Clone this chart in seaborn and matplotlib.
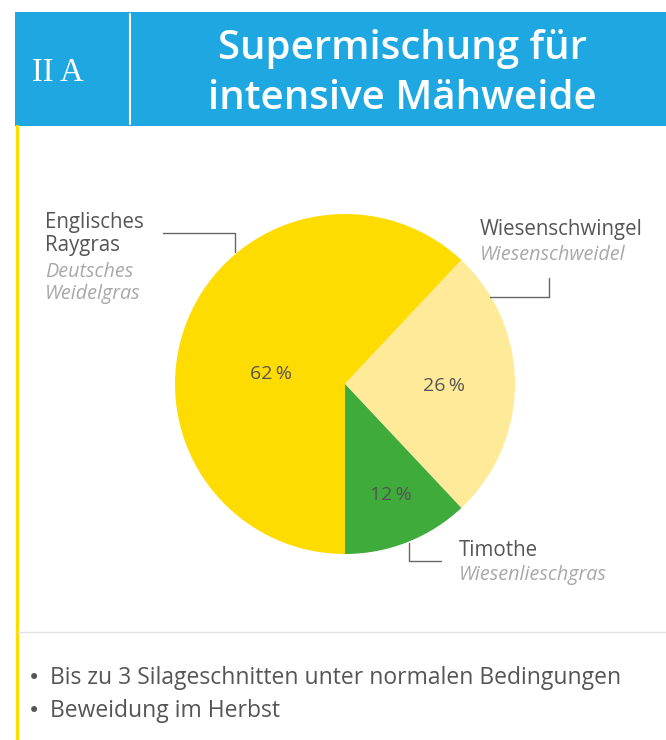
#!/usr/bin/env python3
"""Pie chart: Supermischung fuer intensive Maehweide."""
import matplotlib
matplotlib.use("Agg")
import matplotlib.pyplot as plt
import numpy as np
import seaborn as sns

sns.set_theme(style="white")
plt.rcParams["font.family"] = ["Open Sans", "DejaVu Sans"]

# data
species = ["Englisches\nRaygras", "Wiesenschwingel", "Timothe"]
alt_names = ["Deutsches\nWeidelgras", "Wiesenschweidel", "Wiesenlieschgras"]
shares = [62, 26, 12]
colors = ["#FFDC00", "#FFEA9A", "#3FAB3A"]
bullets = ["Bis zu 3 Silageschnitten unter normalen Bedingungen",
           "Beweidung im Herbst"]
# label placement inside wedges: angle shift (deg) and radius fraction
pct_shift = [14, -1, 1]
pct_dist = [0.44, 0.58, 0.71]

W, H = 666, 740
BLUE = "#1EA7E0"
DARK = "#555555"
LIGHT = "#A8A8A8"


def Y(y):
    # pixel row -> data y
    return H - y


fig = plt.figure(figsize=(W / 100, H / 100), dpi=100)
ax = fig.add_axes([0, 0, 1, 1])

cx, cy, r = 345, Y(384), 170
wedges, _ = ax.pie(shares, colors=colors, startangle=-90, counterclock=False,
                   center=(cx, cy), radius=r, wedgeprops=dict(linewidth=0))

ax.set_xlim(0, W)
ax.set_ylim(0, H)
ax.set_aspect("equal")
ax.axis("off")

for w, v, s, d in zip(wedges, shares, pct_shift, pct_dist):
    mid = np.deg2rad((w.theta1 + w.theta2) / 2 + s)
    ax.text(cx + np.cos(mid) * r * d, cy + np.sin(mid) * r * d, f"{v}\u2009%",
            ha="center", va="center", fontsize=14, color=DARK)

# header band
ax.add_patch(plt.Rectangle((15, Y(126)), W - 15, 114, color=BLUE, lw=0))
ax.plot([130, 130], [Y(14), Y(124)], color="white", lw=1.5)
ax.text(58, Y(73), "II\u2009A", ha="center", va="center", color="white",
        fontsize=23.5, family=["Liberation Serif", "DejaVu Serif"])
ax.text(402, Y(74), "Supermischung für\nintensive Mähweide", ha="center",
        va="center", color="white", fontsize=29, fontweight="semibold",
        linespacing=1.34)

# left yellow rule and separator
ax.plot([16.5, 16.5], [Y(126), 0], color="#FFDC00", lw=2.5)
ax.plot([18, W], [Y(632), Y(632)], color="#E2E2E2", lw=1)

# labels and leader lines
ax.text(45, Y(234), species[0], ha="left", va="center", fontsize=14.8,
        color=DARK, linespacing=1.1)
ax.text(45, Y(283), alt_names[0], ha="left", va="center", fontsize=14.2,
        color=LIGHT, style="italic", linespacing=1.1)
ax.plot([163, 235, 235], [Y(233), Y(233), Y(252)], color="#666666", lw=1)

ax.text(480, Y(229), species[1], ha="left", va="center", fontsize=14.8,
        color=DARK)
ax.text(480, Y(255), alt_names[1], ha="left", va="center", fontsize=14.2,
        color=LIGHT, style="italic")
ax.plot([549, 549, 490], [Y(278), Y(297), Y(297)], color="#666666", lw=1)

ax.text(459, Y(551), species[2], ha="left", va="center", fontsize=14.8,
        color=DARK)
ax.text(459, Y(575), alt_names[2], ha="left", va="center", fontsize=14.2,
        color=LIGHT, style="italic")
ax.plot([409, 409, 441], [Y(543), Y(561), Y(561)], color="#666666", lw=1)

# bullet list
for i, b in enumerate(bullets):
    yy = Y(678 + i * 33)
    ax.text(28, yy, "•", ha="left", va="center", fontsize=15, color=DARK,
            family=["DejaVu Sans"])
    ax.text(50, yy, b, ha="left", va="center", fontsize=16.5, color=DARK)

fig.savefig("out.png", dpi=100, facecolor="white")
